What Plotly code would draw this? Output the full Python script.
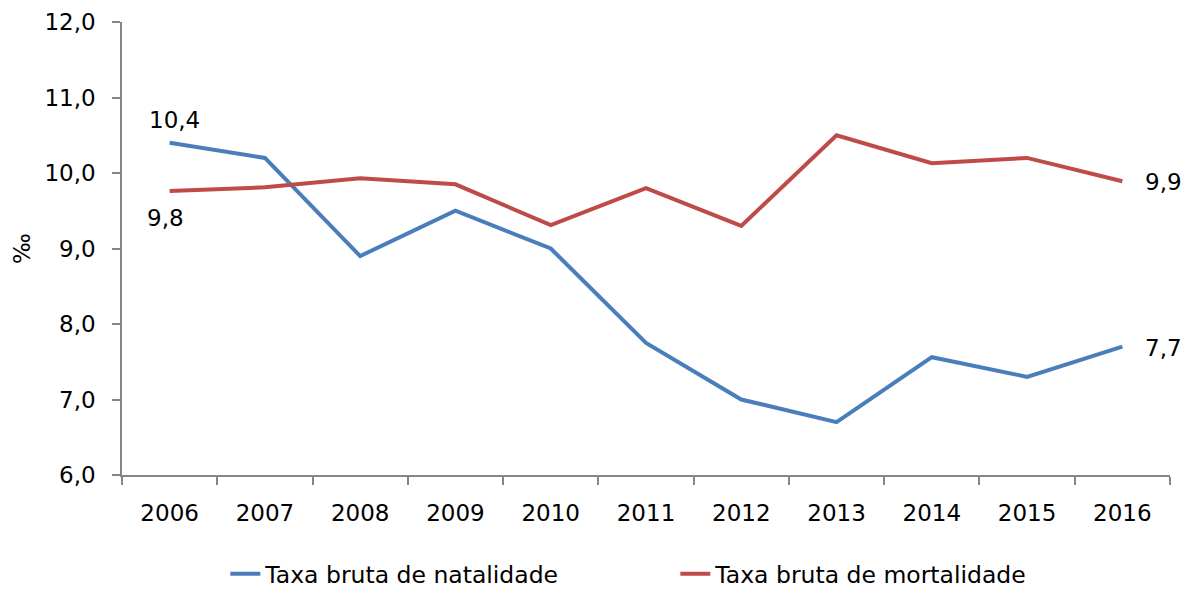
import plotly.graph_objects as go

years = ["2006", "2007", "2008", "2009", "2010", "2011", "2012", "2013", "2014", "2015", "2016"]
natalidade = [10.4, 10.2, 8.9, 9.5, 9.0, 7.75, 7.0, 6.7, 7.56, 7.3, 7.7]
mortalidade = [9.76, 9.81, 9.93, 9.85, 9.31, 9.8, 9.3, 10.5, 10.13, 10.2, 9.89]
y_ticks = [6, 7, 8, 9, 10, 11, 12]

FONT = "DejaVu Sans"
blue = "#4A7EBB"
red = "#BE4B48"
axis_col = "#868686"

fig = go.Figure()
fig.add_trace(go.Scatter(
    x=years, y=natalidade, mode="lines", name="Taxa bruta de natalidade",
    line=dict(color=blue, width=4),
))
fig.add_trace(go.Scatter(
    x=years, y=mortalidade, mode="lines", name="Taxa bruta de mortalidade",
    line=dict(color=red, width=4),
))

def lab(series, i, xs, ys, anchor):
    idx = i % len(years)  # category index (numeric-looking names are read as indices)
    v = series[idx]
    return dict(x=idx, y=v, xref="x", yref="y", text=f"{v:.1f}".replace(".", ","),
                showarrow=False, xanchor=anchor, yanchor="middle", xshift=xs, yshift=ys,
                font=dict(family=FONT, size=23, color="black"))

fig.update_layout(
    annotations=[
        lab(natalidade, 0, 5, 23, "center"),
        lab(mortalidade, 0, -4, -27, "center"),
        lab(mortalidade, -1, 21, -1, "left"),
        lab(natalidade, -1, 21, -1, "left"),
    ],
    width=1190, height=590,
    margin=dict(l=114, r=28, t=14, b=123, autoexpand=False),
    paper_bgcolor="white", plot_bgcolor="white",
    separators=",.",
    font=dict(family=FONT, size=23, color="black"),
    showlegend=True,
    legend=dict(orientation="h", x=0.528, xanchor="center", y=-0.2185, yanchor="middle",
                font=dict(family=FONT, size=23.5, color="black"), entrywidth=405),
    xaxis=dict(
        type="category", range=[-0.5, 10.5], showline=True, linecolor=axis_col, linewidth=1.5,
        ticks="outside", ticklen=8, tickcolor=axis_col, tickwidth=1.5, tickson="boundaries",
        showgrid=False, tickfont=dict(family=FONT, size=23), ticklabelstandoff=17,
        automargin=False,
    ),
    yaxis=dict(
        range=[6, 12], tickvals=y_ticks, tickformat=".1f", showline=True, linecolor=axis_col,
        linewidth=1.5, ticks="outside", ticklen=8, tickcolor=axis_col, tickwidth=1.5, showgrid=False,
        zeroline=False, tickfont=dict(family=FONT, size=23), ticklabelstandoff=12,
        title=dict(text="‰", font=dict(family=FONT, size=23), standoff=7),
        automargin=False,
    ),
)

fig.write_html("out.html")
